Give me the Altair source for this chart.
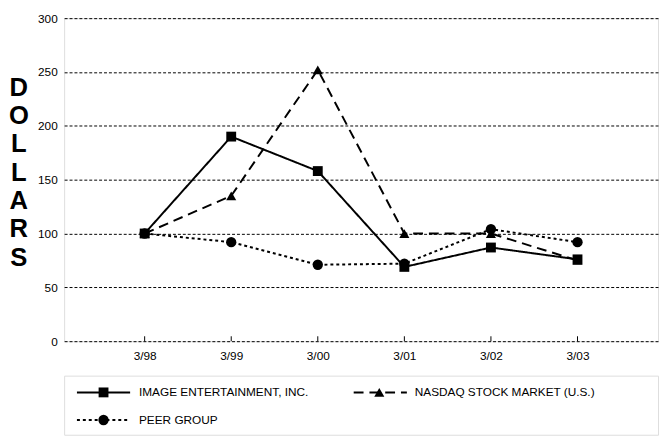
import altair as alt
import pandas as pd

dates = ["3/98", "3/99", "3/00", "3/01", "3/02", "3/03"]
series = ["IMAGE ENTERTAINMENT, INC.", "NASDAQ STOCK MARKET (U.S.)", "PEER GROUP"]
image_vals = [100, 190, 158, 69, 87, 76]
nasdaq_vals = [100, 135, 252, 100, 100, 75]
peer_vals = [100, 92, 71, 72, 104, 92]
y_ticks = [0, 50, 100, 150, 200, 250, 300]
y_title = ["D", "O", "L", "L", "A", "R", "S"]

rows = []
for s, vals in zip(series, [image_vals, nasdaq_vals, peer_vals]):
    for d, v in zip(dates, vals):
        rows.append({"series": s, "date": d, "value": v})
df = pd.DataFrame(rows)

FONT = "Liberation Sans"
W, H = 603, 328

dash_scale = alt.Scale(domain=series, range=[[1, 0], [10, 6], [3, 3]])
shape_scale = alt.Scale(domain=series, range=["square", "triangle-up", "circle"])
size_scale = alt.Scale(domain=series, range=[100, 110, 75])

x = alt.X("date:N", sort=dates, scale=alt.Scale(type="point", padding=0.93),
          axis=alt.Axis(title=None, ticks=False, domain=False, labelAngle=0,
                        labelPadding=10, labelFontSize=12, labelColor="black",
                        labelFont=FONT, grid=False))
y = alt.Y("value:Q", scale=alt.Scale(domain=[0, 300], nice=False),
          axis=alt.Axis(values=y_ticks, ticks=False, domain=False, grid=True,
                        gridDash=[3, 2], gridColor="black", gridWidth=1, gridOpacity=1,
                        labelPadding=7, labelFontSize=12, labelColor="black", labelFont=FONT,
                        title=None))

base = alt.Chart(df)
lines = base.mark_line(color="black", strokeWidth=2).encode(
    x=x, y=y,
    strokeDash=alt.StrokeDash("series:N", scale=dash_scale, legend=None),
    detail="series:N")
points = base.mark_point(filled=True, color="black", opacity=1).encode(
    x=x, y=y,
    shape=alt.Shape("series:N", scale=shape_scale, legend=None),
    size=alt.Size("series:N", scale=size_scale, legend=None))
tick_df = pd.DataFrame({"date": dates})
ticks = alt.Chart(tick_df).mark_rule(color="black", strokeWidth=1).encode(
    x=x, y=alt.value(H), y2=alt.value(H - 5))
title_df = pd.DataFrame({"t": [0]})
ytitle = alt.Chart(title_df).mark_text(
    text=y_title, fontSize=26, font=FONT, fontWeight="bold", color="black",
    lineHeight=28.7, align="center", baseline="middle").encode(
    x=alt.value(-46), y=alt.value(71))

main = alt.layer(lines, ticks, points, ytitle).properties(width=W, height=H)

# legend panel
leg_df = pd.DataFrame({
    "series": series,
    "x0": [13, 294, 13],
    "xm": [40, 320, 40],
    "x1": [67, 348, 67],
    "ty": [17, 17, 45],
    "tx": [76, 356, 76],
})
lx = alt.Scale(domain=[0, W])
ly = alt.Scale(domain=[0, 60], reverse=True)
leg_lines = alt.Chart(leg_df).mark_rule(color="black", strokeWidth=2).encode(
    x=alt.X("x0:Q", scale=lx, axis=None), x2="x1:Q",
    y=alt.Y("ty:Q", scale=ly, axis=None),
    strokeDash=alt.StrokeDash("series:N", scale=dash_scale, legend=None))
leg_pts = alt.Chart(leg_df).mark_point(filled=True, color="black", opacity=1).encode(
    x=alt.X("xm:Q", scale=lx, axis=None),
    y=alt.Y("ty:Q", scale=ly, axis=None),
    shape=alt.Shape("series:N", scale=shape_scale, legend=None),
    size=alt.Size("series:N", scale=size_scale, legend=None))
leg_text = alt.Chart(leg_df).mark_text(align="left", baseline="middle", fontSize=12,
                                       font=FONT, color="black").encode(
    x=alt.X("tx:Q", scale=lx, axis=None),
    y=alt.Y("ty:Q", scale=ly, axis=None),
    text="series:N")
legend = alt.layer(leg_lines, leg_pts, leg_text).properties(width=W, height=60)

chart = alt.vconcat(main, legend, spacing=12).resolve_scale(
    x="independent", y="independent").properties(
    padding={"left": 0, "top": 0, "right": 0, "bottom": 0}
).configure_view(stroke="black", strokeWidth=1.5).configure(background="white")

chart.save("out.html", embed_options={"renderer": "svg", "actions": False})
